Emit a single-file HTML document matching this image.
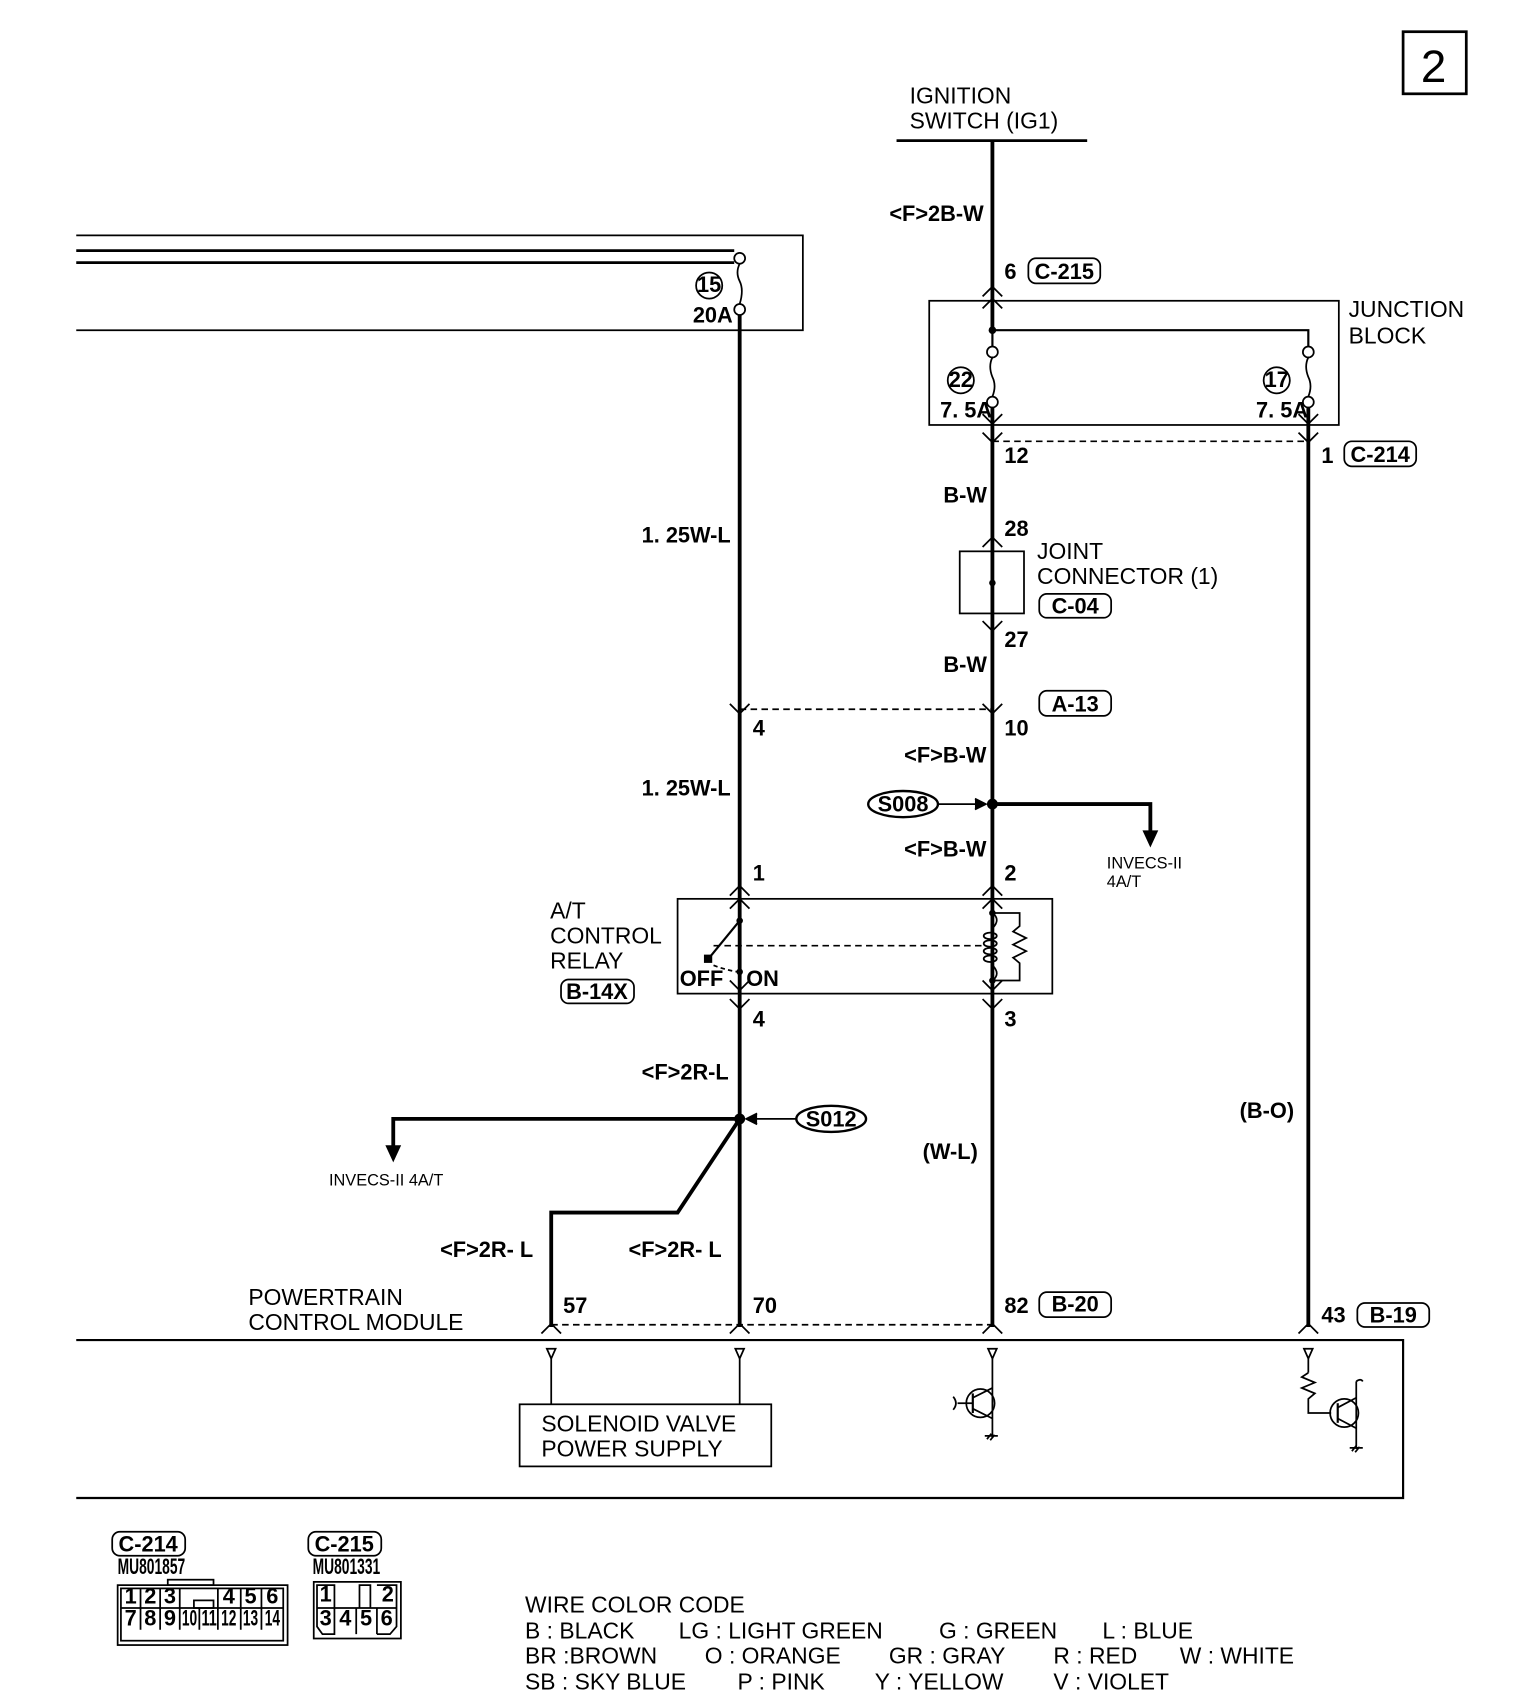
<!DOCTYPE html>
<html><head><meta charset="utf-8"><style>
html,body{margin:0;padding:0;background:#fff;}
svg{display:block;}
text{font-family:"Liberation Sans",sans-serif;fill:#000;}
.c{font-family:"Liberation Sans Narrow","Liberation Sans",sans-serif;font-weight:bold;font-size:20px;}
.n{font-size:21px;}
</style></head><body>
<svg width="1536" height="1704" viewBox="0 0 1410 1564" xmlns="http://www.w3.org/2000/svg">
<g fill="none" stroke="#000" stroke-width="1.6">
<rect x="1288" y="29" width="58" height="57" stroke-width="2.5"/>
<line x1="823" y1="129" x2="998" y2="129" stroke-width="2.5"/>
<line x1="911" y1="129" x2="911" y2="303" stroke-width="3.5"/>
<line x1="911" y1="374" x2="911" y2="1218" stroke-width="3.5"/>
<line x1="1201" y1="374" x2="1201" y2="1218" stroke-width="3.5"/>
<line x1="679" y1="288" x2="679" y2="1218" stroke-width="3.5"/>
<polyline points="70,216 737,216 737,303 70,303"/>
<line x1="70" y1="230" x2="674" y2="230" stroke-width="2.5"/>
<line x1="70" y1="241" x2="674" y2="241" stroke-width="2.5"/>
<circle cx="679" cy="237" r="5" fill="#fff"/>
<circle cx="679" cy="284" r="5" fill="#fff"/>
<path d="M679,242 q-4,8 0,16 q4,8 0,21"/>
<circle cx="651" cy="262" r="12"/>
<rect x="853" y="276" width="376" height="114"/>
<polyline points="911,303 1201,303 1201,318" stroke-width="2"/>
<line x1="911" y1="303" x2="911" y2="318" stroke-width="2"/>
<circle cx="911" cy="323" r="5" fill="#fff"/>
<circle cx="911" cy="369" r="5" fill="#fff"/>
<path d="M911,328 q-4,8 0,18 q4,8 0,18"/>
<circle cx="1201" cy="323" r="5" fill="#fff"/>
<circle cx="1201" cy="369" r="5" fill="#fff"/>
<path d="M1201,328 q-4,8 0,18 q4,8 0,18"/>
<circle cx="882" cy="349" r="12"/>
<circle cx="1172" cy="349" r="12"/>
<path d="M902,272 911,263 920,272 M902,283 911,274 920,283"/>
<path d="M902,380 911,389 920,380 M902,397 911,406 920,397"/>
<path d="M1192,380 1201,389 1210,380 M1192,397 1201,406 1210,397"/>
<line x1="911" y1="405" x2="1201" y2="405" stroke-dasharray="6,4"/>
<rect x="944" y="237" width="66" height="23" rx="7"/>
<rect x="1234" y="405" width="66" height="23" rx="7"/>
<path d="M902,502 911,493 920,502"/>
<rect x="881" y="506" width="59" height="57"/>
<path d="M902,570 911,579 920,570"/>
<rect x="954" y="545" width="66" height="22" rx="7"/>
<rect x="954" y="634" width="66" height="23" rx="7"/>
<path d="M902,646 911,655 920,646 M670,646 679,655 688,646"/>
<line x1="679" y1="651" x2="911" y2="651" stroke-dasharray="6,4"/>
<ellipse cx="829" cy="738" rx="32" ry="12" stroke-width="2.2"/>
<line x1="861" y1="738" x2="903" y2="738"/>
<path d="M895,733 905,738 895,743" fill="#000"/>
<polyline points="911,738 1056,738 1056,765" stroke-width="3.5"/>
<path d="M1050,763 1056,776 1062,763Z" fill="#000"/>
<path d="M670,822 679,813 688,822 M670,834 679,825 688,834"/>
<path d="M902,822 911,813 920,822 M902,834 911,825 920,834"/>
<rect x="622" y="825" width="344" height="87"/>
<line x1="679" y1="845" x2="652" y2="878" stroke-width="2"/>
<rect x="647" y="877" width="6" height="6" fill="#000"/>
<line x1="655" y1="868" x2="904" y2="868" stroke-dasharray="6,4"/>
<path d="M655,886 q10,4 22,6" stroke-dasharray="4,3"/>
<polyline points="911,838 936,838 936,850 930,855 942,861 930,867 942,873 930,879 936,884 936,900 911,900"/>
<path d="M911,838 q8,6 0,14 M911,900 q8,-6 0,-14"/>
<ellipse cx="909" cy="859" rx="6" ry="3"/><ellipse cx="909" cy="866" rx="6" ry="3"/><ellipse cx="909" cy="873" rx="6" ry="3"/><ellipse cx="909" cy="880" rx="6" ry="3"/>
<path d="M670,900 679,909 688,900 M670,917 679,926 688,917"/>
<path d="M902,900 911,909 920,900 M902,917 911,926 920,917"/>
<rect x="515" y="899" width="67" height="22" rx="7"/>
<ellipse cx="763" cy="1027" rx="32" ry="12" stroke-width="2.2"/>
<line x1="731" y1="1027" x2="688" y2="1027"/>
<path d="M695,1022 685,1027 695,1032" fill="#000"/>
<polyline points="679,1027 361,1027 361,1054" stroke-width="3.5"/>
<path d="M355,1052 361,1065 367,1052Z" fill="#000"/>
<polyline points="679,1027 622,1113 506,1113 506,1218" stroke-width="3.5"/>
<rect x="954" y="1186" width="66" height="23" rx="7"/>
<rect x="1246" y="1196" width="66" height="22" rx="7"/>
<line x1="506" y1="1216" x2="911" y2="1216" stroke-dasharray="6,4"/>
<path d="M497,1224 506,1215 515,1224 M670,1224 679,1215 688,1224 M902,1224 911,1215 920,1224 M1192,1224 1201,1215 1210,1224"/>
<polyline points="70,1230 1288,1230 1288,1375 70,1375" stroke-width="2"/>
<path d="M502,1238 510,1238 506,1247Z M675,1238 683,1238 679,1247Z M907,1238 915,1238 911,1247Z M1197,1238 1205,1238 1201,1247Z"/>
<line x1="506" y1="1247" x2="506" y2="1289"/>
<line x1="679" y1="1247" x2="679" y2="1289"/>
<rect x="477" y="1289" width="231" height="57"/>
<line x1="911" y1="1247" x2="911" y2="1320"/>
<circle cx="900" cy="1288" r="13"/>
<line x1="893" y1="1279" x2="893" y2="1297" stroke-width="2"/>
<line x1="879" y1="1288" x2="893" y2="1288"/>
<path d="M875,1282 q5,6 0,12"/>
<line x1="893" y1="1283" x2="911" y2="1274"/><line x1="893" y1="1293" x2="911" y2="1302"/>
<path d="M904,1318 916,1318 M906,1321 910,1316 M909,1322 913,1317"/>
<line x1="1201" y1="1247" x2="1201" y2="1260"/>
<polyline points="1201,1260 1195,1264 1207,1269 1195,1274 1207,1279 1201,1284 1201,1297 1222,1297"/>
<circle cx="1234" cy="1297" r="13"/>
<line x1="1228" y1="1288" x2="1228" y2="1306" stroke-width="2"/>
<line x1="1228" y1="1292" x2="1245" y2="1283"/><line x1="1228" y1="1302" x2="1245" y2="1311"/>
<line x1="1245" y1="1268" x2="1245" y2="1330"/>
<path d="M1245,1268 q4,-3 6,0"/>
<path d="M1239,1329 1251,1329 M1241,1332 1245,1327 M1244,1333 1248,1328"/>
<rect x="103" y="1406" width="67" height="22" rx="7"/>
<rect x="283" y="1406" width="67" height="22" rx="7"/>
<rect x="108" y="1455" width="156" height="55"/>
<rect x="154" y="1450" width="42" height="5"/>
<rect x="111" y="1458" width="149" height="48"/>
<line x1="111" y1="1476" x2="260" y2="1476"/>
<path d="M129,1458V1496 M147,1458V1496 M165,1458V1496 M200,1458V1496 M221,1458V1496 M240,1458V1496 M183,1476V1496"/>
<rect x="178" y="1469" width="18" height="7"/>
<rect x="288" y="1452" width="80" height="52"/>
<path d="M291,1455H307V1500H296L291,1493Z M330,1455H340V1476H330Z M346,1455H364V1493L358,1500H346 M291,1476H364 M307,1476V1500 M327,1476V1500 M346,1476V1500"/>
</g>
<g fill="#000">
<circle cx="911" cy="303" r="3.5"/>
<circle cx="911" cy="535" r="3"/>
<circle cx="911" cy="738" r="5"/>
<circle cx="679" cy="1027" r="5"/>
<circle cx="679" cy="845" r="3"/>
<circle cx="679" cy="892" r="3"/>
<circle cx="911" cy="838" r="3"/>
<circle cx="911" cy="900" r="3"/>
</g>
<text x="1316" y="75" font-size="42" text-anchor="middle">2</text>
<text class="n" x="835" y="95">IGNITION</text>
<text class="n" x="835" y="118">SWITCH (IG1)</text>
<text class="c" x="903" y="203" text-anchor="end">&lt;F&gt;2B-W</text>
<text class="c" x="922" y="256">6</text>
<text class="c" x="977" y="256" text-anchor="middle">C-215</text>
<text class="n" x="1238" y="291">JUNCTION</text>
<text class="n" x="1238" y="315">BLOCK</text>
<text class="c" x="882" y="355" text-anchor="middle" font-size="15">22</text>
<text class="c" x="1172" y="355" text-anchor="middle" font-size="15">17</text>
<text class="c" x="863" y="383" font-size="17">7. 5A</text>
<text class="c" x="1153" y="383" font-size="17">7. 5A</text>
<text class="c" x="651" y="268" text-anchor="middle" font-size="15">15</text>
<text class="c" x="636" y="296" font-size="17">20A</text>
<text class="c" x="922" y="425">12</text>
<text class="c" x="1213" y="425">1</text>
<text class="c" x="1267" y="424" text-anchor="middle">C-214</text>
<text class="c" x="866" y="461">B-W</text>
<text class="c" x="589" y="498">1. 25W-L</text>
<text class="c" x="922" y="492">28</text>
<text class="n" x="952" y="513">JOINT</text>
<text class="n" x="952" y="536">CONNECTOR (1)</text>
<text class="c" x="987" y="563" text-anchor="middle">C-04</text>
<text class="c" x="922" y="594">27</text>
<text class="c" x="866" y="617">B-W</text>
<text class="c" x="987" y="653" text-anchor="middle">A-13</text>
<text class="c" x="691" y="675">4</text>
<text class="c" x="922" y="675">10</text>
<text class="c" x="830" y="700">&lt;F&gt;B-W</text>
<text class="c" x="589" y="730">1. 25W-L</text>
<text class="c" x="829" y="745" text-anchor="middle">S008</text>
<text x="1016" y="797" font-size="15">INVECS-II</text>
<text x="1016" y="814" font-size="15">4A/T</text>
<text class="c" x="830" y="786">&lt;F&gt;B-W</text>
<text class="c" x="691" y="808">1</text>
<text class="c" x="922" y="808">2</text>
<text class="n" x="505" y="843">A/T</text>
<text class="n" x="505" y="866">CONTROL</text>
<text class="n" x="505" y="889">RELAY</text>
<text class="c" x="548" y="917" text-anchor="middle">B-14X</text>
<text class="c" x="624" y="905" font-size="17">OFF</text>
<text class="c" x="685" y="905" font-size="17">ON</text>
<text class="c" x="691" y="942">4</text>
<text class="c" x="922" y="942">3</text>
<text class="c" x="589" y="991">&lt;F&gt;2R-L</text>
<text class="c" x="763" y="1034" text-anchor="middle">S012</text>
<text class="c" x="1138" y="1026">(B-O)</text>
<text class="c" x="847" y="1064">(W-L)</text>
<text x="302" y="1088" font-size="15">INVECS-II 4A/T</text>
<text class="c" x="404" y="1154">&lt;F&gt;2R- L</text>
<text class="c" x="577" y="1154">&lt;F&gt;2R- L</text>
<text class="n" x="228" y="1198">POWERTRAIN</text>
<text class="n" x="228" y="1221">CONTROL MODULE</text>
<text class="c" x="517" y="1205">57</text>
<text class="c" x="691" y="1205">70</text>
<text class="c" x="922" y="1205">82</text>
<text class="c" x="987" y="1204" text-anchor="middle">B-20</text>
<text class="c" x="1213" y="1214">43</text>
<text class="c" x="1279" y="1214" text-anchor="middle">B-19</text>
<text class="n" x="497" y="1314">SOLENOID VALVE</text>
<text class="n" x="497" y="1337">POWER SUPPLY</text>
<text class="c" x="136" y="1424" text-anchor="middle">C-214</text>
<text class="c" x="316" y="1424" text-anchor="middle">C-215</text>
<text class="c" x="108" y="1445" font-size="11" textLength="62" lengthAdjust="spacingAndGlyphs">MU801857</text>
<text class="c" x="287" y="1445" font-size="11" textLength="62" lengthAdjust="spacingAndGlyphs">MU801331</text>
<g class="c" font-size="11" text-anchor="middle">
<text x="120" y="1472">1</text><text x="138" y="1472">2</text><text x="156" y="1472">3</text><text x="210" y="1472">4</text><text x="230" y="1472">5</text><text x="250" y="1472">6</text>
<text x="120" y="1492">7</text><text x="138" y="1492">8</text><text x="156" y="1492">9</text><text x="174" y="1492" textLength="14" lengthAdjust="spacingAndGlyphs">10</text><text x="192" y="1492" textLength="14" lengthAdjust="spacingAndGlyphs">11</text><text x="210" y="1492" textLength="14" lengthAdjust="spacingAndGlyphs">12</text><text x="230" y="1492" textLength="14" lengthAdjust="spacingAndGlyphs">13</text><text x="250" y="1492" textLength="14" lengthAdjust="spacingAndGlyphs">14</text>
<text x="299" y="1470">1</text><text x="356" y="1470">2</text><text x="299" y="1492">3</text><text x="317" y="1492">4</text><text x="336" y="1492">5</text><text x="355" y="1492">6</text>
</g>
<text class="n" x="482" y="1480">WIRE COLOR CODE</text>
<text class="n" x="482" y="1504">B : BLACK</text><text class="n" x="623" y="1504">LG : LIGHT GREEN</text><text class="n" x="862" y="1504">G : GREEN</text><text class="n" x="1012" y="1504">L : BLUE</text>
<text class="n" x="482" y="1527">BR :BROWN</text><text class="n" x="647" y="1527">O : ORANGE</text><text class="n" x="816" y="1527">GR : GRAY</text><text class="n" x="967" y="1527">R : RED</text><text class="n" x="1083" y="1527">W : WHITE</text>
<text class="n" x="482" y="1551">SB : SKY BLUE</text><text class="n" x="677" y="1551">P : PINK</text><text class="n" x="803" y="1551">Y : YELLOW</text><text class="n" x="967" y="1551">V : VIOLET</text>
</svg>
</body></html>
